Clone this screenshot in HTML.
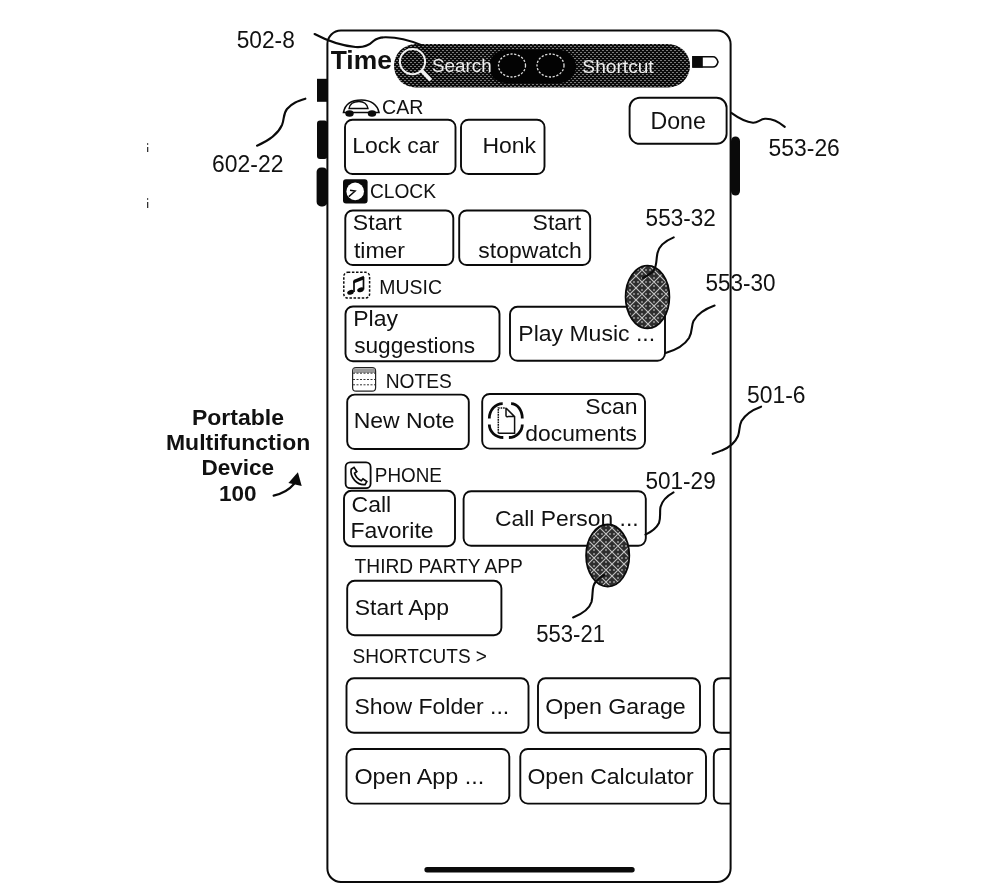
<!DOCTYPE html>
<html><head><meta charset="utf-8">
<style>
html,body{margin:0;padding:0;background:#fff;width:1000px;height:893px;overflow:hidden}
svg{display:block;will-change:transform}
text{font-family:"Liberation Sans",sans-serif;fill:#111}
.ol{fill:none;stroke:#0a0a0a;stroke-width:1.9}
.ld{fill:none;stroke:#0a0a0a;stroke-width:2.1;stroke-linecap:round}
</style></head><body>
<svg width="1000" height="893" viewBox="0 0 1000 893">
<defs>
<pattern id="dith" width="4" height="4" patternUnits="userSpaceOnUse">
<rect width="4" height="4" fill="#0c0c0c"/>
<rect x="0" y="0" width="2" height="1" fill="#7a7a7a"/>
<rect x="2" y="2" width="2" height="1" fill="#7a7a7a"/>
</pattern>
<pattern id="hatch" width="12" height="12" patternUnits="userSpaceOnUse">
<rect width="12" height="12" fill="#2e2e2e"/>
<rect x="5" y="1" width="2" height="2" fill="#808080"/>
<rect x="5" y="9" width="2" height="2" fill="#808080"/>
<rect x="1" y="5" width="2" height="2" fill="#808080"/>
<rect x="9" y="5" width="2" height="2" fill="#808080"/>
<path d="M0,0 L12,12 M12,0 L0,12 M-6,6 L6,-6 M6,18 L18,6 M-6,6 L6,18 M6,-6 L18,6" stroke="#c4c4c4" stroke-width="1.1"/>
</pattern>
</defs>
<!-- ===== device ===== -->
<rect class="ol" x="327.4" y="30.6" width="403.2" height="851.4" rx="13.5" ry="13.5" style="stroke-width:2"/>
<!-- side buttons -->
<rect x="317" y="78.8" width="10.4" height="23" fill="#0a0a0a"/>
<rect x="317" y="120.5" width="10.4" height="38.5" rx="3" fill="#0a0a0a"/>
<rect x="316.6" y="167.4" width="10.8" height="39" rx="4.5" fill="#0a0a0a"/>
<rect x="731" y="136.4" width="9" height="59.2" rx="4.5" fill="#0a0a0a"/>
<!-- tiny marks -->
<rect x="147" y="143" width="1.2" height="2" fill="#555"/>
<rect x="147" y="147" width="1.3" height="5" fill="#333"/>
<rect x="147" y="198" width="1.2" height="2" fill="#555"/>
<rect x="147" y="202" width="1.3" height="6" fill="#333"/>

<!-- ===== status bar ===== -->
<rect x="394" y="44" width="296" height="43.5" rx="21.75" fill="url(#dith)"/>
<rect x="489" y="50" width="87" height="33" rx="16.5" fill="#030303"/>
<ellipse cx="512" cy="65.5" rx="13.5" ry="11.5" fill="none" stroke="#ddd" stroke-width="1.3" stroke-dasharray="2.2 1.6"/>
<ellipse cx="550.5" cy="65.5" rx="13.5" ry="11.5" fill="none" stroke="#ddd" stroke-width="1.3" stroke-dasharray="2.2 1.6"/>
<circle cx="412.5" cy="61.6" r="12.6" fill="none" stroke="#f2f2f2" stroke-width="2"/>
<path d="M421.5,70.5 L430.8,80.2" stroke="#f2f2f2" stroke-width="3.8"/>
<!-- battery -->
<path d="M693,56.8 H713 Q716.5,56.8 718,61.9 Q716.5,67 713,67 H693 Z" fill="#fff" stroke="#0a0a0a" stroke-width="1.6"/>
<rect x="692.3" y="56" width="10.5" height="11.6" fill="#0a0a0a"/>

<!-- ===== leader lines ===== -->
<path class="ld" d="M314.6,34 C325,39.5 340,45.5 355.4,47 C364,47.7 369,45.5 373.5,41 C377.5,37.5 381,37.2 386,37.3 C398,37.5 410,40.5 421,45"/>
<path class="ld" d="M257,145.7 C268,141 278,134 282,125 C284.5,119 283,114 287,109 C292,103 298,101 305.4,98.7"/>
<path class="ld" d="M731.3,112.9 C737,117 745,122 753,122.7 C758,123 760,119 765,118.8 C772,118.5 779,122 784.8,126.9"/>
<path class="ld" d="M714.6,305.6 C705,309 697,315 693.5,321 C691,326 693,331 689,338 C684,346 676,350 665.6,353"/>
<path class="ld" d="M761.1,406.7 C752,410 745,415 741.5,421 C739,426 740,430 738,436 C735,443 728,448 721.8,450.4 C718,452 715,453 712.7,453.8"/>
<path class="ld" d="M673.5,492.4 C667,496 662,501 660.5,507 C659.5,512 661,517 659,523 C656,529 651,532 645.5,534.6"/>
<!-- device 100 arrow -->
<path class="ld" d="M273.6,495.6 C281,494 289,490 294,484"/>
<path d="M297.9,472.2 L288.4,483 L301.7,485.9 Z" fill="#0a0a0a"/>

<!-- ===== content ===== -->
<!-- CAR icon -->
<path d="M343.5,112.5 C345,104 352,100 361.5,100 C371,100 377.5,105 379,112.5 Z" fill="none" stroke="#0a0a0a" stroke-width="1.6"/>
<path d="M349,108.5 C350,103 355,101.5 359,101.5 C364,101.5 367,104 368,108.5 Z" fill="none" stroke="#0a0a0a" stroke-width="1.3"/>
<ellipse cx="349.5" cy="113.5" rx="4.2" ry="3.2" fill="#0a0a0a"/>
<ellipse cx="372" cy="113.5" rx="4.2" ry="3.2" fill="#0a0a0a"/>
<rect class="ol" x="345" y="119.7" width="110.5" height="54.3" rx="7.5"/>
<rect class="ol" x="461" y="119.7" width="83.5" height="54.3" rx="7.5"/>
<rect class="ol" x="629.6" y="97.8" width="97" height="46" rx="10"/>

<!-- CLOCK -->
<rect x="343" y="179.2" width="24.6" height="24.4" rx="3" fill="#0a0a0a"/>
<circle cx="355.2" cy="191.4" r="8.8" fill="#fff"/>
<path d="M350,190.2 L355.2,191 L348.8,196.6" fill="none" stroke="#0a0a0a" stroke-width="1.4"/>
<rect class="ol" x="345.3" y="210.5" width="108" height="54.5" rx="7.5"/>
<rect class="ol" x="459.2" y="210.5" width="131" height="54.5" rx="7.5"/>

<!-- MUSIC -->
<rect x="343.8" y="272.3" width="25.8" height="25.8" rx="4" fill="none" stroke="#0a0a0a" stroke-width="1.5" stroke-dasharray="2.5 1.6"/>
<path d="M353.5,280 L363.8,275.8 L363.8,279.5 L353.5,283.5 Z" fill="#0a0a0a"/>
<path d="M354,281 V292 M363.5,277 V289.5" stroke="#0a0a0a" stroke-width="1.7"/>
<ellipse cx="350.5" cy="292.3" rx="3.4" ry="2.3" fill="#0a0a0a" transform="rotate(-20 350.5 292.3)"/>
<ellipse cx="360.5" cy="289.8" rx="3.4" ry="2.3" fill="#0a0a0a" transform="rotate(-20 360.5 289.8)"/>
<rect class="ol" x="345.5" y="306.5" width="154" height="54.8" rx="7.5"/>
<rect class="ol" x="510" y="306.8" width="155" height="54" rx="7.5"/>

<!-- NOTES -->
<rect x="352.6" y="367.6" width="23" height="23.6" rx="3.5" fill="none" stroke="#222" stroke-width="1.2"/>
<path d="M353.2,368.6 H375 V373 H353.2 Z" fill="#9a9a9a"/>
<path d="M353,373.2 H375 M353,379.5 H375 M353,384.8 H375" stroke="#333" stroke-width="1" stroke-dasharray="2 1.5"/>
<rect class="ol" x="347.2" y="394.6" width="121.6" height="54.4" rx="7.5"/>
<rect class="ol" x="482.2" y="394" width="162.8" height="54.6" rx="7.5"/>
<!-- scan icon -->
<path d="M502.7,403.6 A13.4,14.8 0 0 0 489.3,418.4 M489.3,424.6 A14,12.9 0 0 0 503.3,437.5 M511.1,403.6 A11.2,14.8 0 0 1 522.3,418.4 M522.3,424.6 A13.4,12.9 0 0 1 508.9,437.5" fill="none" stroke="#0a0a0a" stroke-width="2.8"/>
<path d="M498.3,433.2 V408 H506" fill="none" stroke="#111" stroke-width="1.5" stroke-dasharray="1.6 0.9"/>
<path d="M506,408 L514.6,416.6 V433.2 H498.3 M506,408 V415.5 C506,416.4 507,417 508,416.6 H514.6" fill="none" stroke="#111" stroke-width="1.5"/>

<!-- PHONE -->
<rect x="345.6" y="462.4" width="25" height="25.8" rx="4.5" fill="none" stroke="#0a0a0a" stroke-width="1.8"/>
<path d="M351.2,469.2 L354,467.4 L356.8,471.6 L354.6,473.2 C355.6,476.6 358,479.2 361.3,480.8 L363,478.8 L366.8,481.6 L365,484.6 C357.5,485.5 349.6,477.5 351.2,469.2 Z" fill="none" stroke="#0a0a0a" stroke-width="1.7"/>
<rect class="ol" x="344" y="490.8" width="111" height="55.4" rx="7.5"/>
<rect class="ol" x="463.6" y="491.2" width="182.2" height="54.6" rx="7.5"/>

<!-- THIRD PARTY -->
<rect class="ol" x="347.2" y="580.8" width="154.2" height="54.4" rx="7.5"/>

<!-- SHORTCUTS -->
<rect class="ol" x="346.5" y="678.3" width="182" height="54.4" rx="7.5"/>
<rect class="ol" x="538" y="678.3" width="162" height="54.4" rx="7.5"/>
<path class="ol" d="M730,678.3 H721.3 Q713.8,678.3 713.8,685.8 V725.2 Q713.8,732.7 721.3,732.7 H730"/>
<rect class="ol" x="346.5" y="749" width="162.8" height="54.6" rx="7.5"/>
<rect class="ol" x="520.3" y="749" width="185.7" height="54.6" rx="7.5"/>
<path class="ol" d="M730,749 H721.3 Q713.8,749 713.8,756.5 V796.1 Q713.8,803.6 721.3,803.6 H730"/>

<!-- home indicator -->
<rect x="424.4" y="867" width="210.3" height="5.4" rx="2.7" fill="#0a0a0a"/>


<text x="236.71" y="47.9" textLength="58.11" lengthAdjust="spacingAndGlyphs" style="font-size:23px;font-weight:normal;fill:#111">502-8</text>
<text x="212.10" y="171.9" textLength="71.32" lengthAdjust="spacingAndGlyphs" style="font-size:23px;font-weight:normal;fill:#111">602-22</text>
<text x="768.61" y="156.4" textLength="71.22" lengthAdjust="spacingAndGlyphs" style="font-size:23px;font-weight:normal;fill:#111">553-26</text>
<text x="645.62" y="225.5" textLength="70.09" lengthAdjust="spacingAndGlyphs" style="font-size:23px;font-weight:normal;fill:#111">553-32</text>
<text x="705.52" y="290.6" textLength="70.09" lengthAdjust="spacingAndGlyphs" style="font-size:23px;font-weight:normal;fill:#111">553-30</text>
<text x="747.01" y="403.2" textLength="58.52" lengthAdjust="spacingAndGlyphs" style="font-size:23px;font-weight:normal;fill:#111">501-6</text>
<text x="645.42" y="488.7" textLength="70.29" lengthAdjust="spacingAndGlyphs" style="font-size:23px;font-weight:normal;fill:#111">501-29</text>
<text x="536.24" y="641.8" textLength="68.76" lengthAdjust="spacingAndGlyphs" style="font-size:23px;font-weight:normal;fill:#111">553-21</text>
<text x="330.70" y="68.7" textLength="61.14" lengthAdjust="spacingAndGlyphs" style="font-size:26px;font-weight:bold;fill:#111">Time</text>
<text x="431.98" y="72.3" textLength="59.67" lengthAdjust="spacingAndGlyphs" style="font-size:18.5px;font-weight:normal;fill:#eee">Search</text>
<text x="582.36" y="72.6" textLength="71.34" lengthAdjust="spacingAndGlyphs" style="font-size:18.5px;font-weight:normal;fill:#eee">Shortcut</text>
<text x="382.09" y="114.3" textLength="41.38" lengthAdjust="spacingAndGlyphs" style="font-size:19.5px;font-weight:normal;fill:#111">CAR</text>
<text x="369.92" y="197.5" textLength="66.07" lengthAdjust="spacingAndGlyphs" style="font-size:19.5px;font-weight:normal;fill:#111">CLOCK</text>
<text x="379.31" y="294.2" textLength="62.63" lengthAdjust="spacingAndGlyphs" style="font-size:19.5px;font-weight:normal;fill:#111">MUSIC</text>
<text x="385.63" y="387.7" textLength="66.14" lengthAdjust="spacingAndGlyphs" style="font-size:19.5px;font-weight:normal;fill:#111">NOTES</text>
<text x="374.87" y="481.7" textLength="67.08" lengthAdjust="spacingAndGlyphs" style="font-size:19.5px;font-weight:normal;fill:#111">PHONE</text>
<text x="354.60" y="573.0" textLength="168.30" lengthAdjust="spacingAndGlyphs" style="font-size:19.5px;font-weight:normal;fill:#111">THIRD PARTY APP</text>
<text x="352.62" y="663.3" textLength="134.35" lengthAdjust="spacingAndGlyphs" style="font-size:19.5px;font-weight:normal;fill:#111">SHORTCUTS &gt;</text>
<text x="352.21" y="153.4" textLength="86.95" lengthAdjust="spacingAndGlyphs" style="font-size:22px;font-weight:normal;fill:#111">Lock car</text>
<text x="482.51" y="153.4" textLength="53.56" lengthAdjust="spacingAndGlyphs" style="font-size:22px;font-weight:normal;fill:#111">Honk</text>
<text x="650.43" y="128.5" textLength="55.34" lengthAdjust="spacingAndGlyphs" style="font-size:23.5px;font-weight:normal;fill:#111">Done</text>
<text x="352.85" y="230.4" textLength="48.74" lengthAdjust="spacingAndGlyphs" style="font-size:22px;font-weight:normal;fill:#111">Start</text>
<text x="353.90" y="258.2" textLength="51.10" lengthAdjust="spacingAndGlyphs" style="font-size:22px;font-weight:normal;fill:#111">timer</text>
<text x="532.62" y="230.4" textLength="48.57" lengthAdjust="spacingAndGlyphs" style="font-size:22px;font-weight:normal;fill:#111">Start</text>
<text x="478.36" y="258.2" textLength="103.45" lengthAdjust="spacingAndGlyphs" style="font-size:22px;font-weight:normal;fill:#111">stopwatch</text>
<text x="353.21" y="326.4" textLength="44.73" lengthAdjust="spacingAndGlyphs" style="font-size:22px;font-weight:normal;fill:#111">Play</text>
<text x="354.17" y="352.8" textLength="121.07" lengthAdjust="spacingAndGlyphs" style="font-size:22px;font-weight:normal;fill:#111">suggestions</text>
<text x="518.31" y="340.8" textLength="136.79" lengthAdjust="spacingAndGlyphs" style="font-size:22px;font-weight:normal;fill:#111">Play Music ...</text>
<text x="353.71" y="428.3" textLength="100.91" lengthAdjust="spacingAndGlyphs" style="font-size:22px;font-weight:normal;fill:#111">New Note</text>
<text x="585.19" y="414.3" textLength="52.42" lengthAdjust="spacingAndGlyphs" style="font-size:22px;font-weight:normal;fill:#111">Scan</text>
<text x="525.36" y="440.5" textLength="111.69" lengthAdjust="spacingAndGlyphs" style="font-size:22px;font-weight:normal;fill:#111">documents</text>
<text x="351.55" y="511.5" textLength="39.62" lengthAdjust="spacingAndGlyphs" style="font-size:22px;font-weight:normal;fill:#111">Call</text>
<text x="350.51" y="538.1" textLength="83.08" lengthAdjust="spacingAndGlyphs" style="font-size:22px;font-weight:normal;fill:#111">Favorite</text>
<text x="494.96" y="525.8" textLength="143.70" lengthAdjust="spacingAndGlyphs" style="font-size:22px;font-weight:normal;fill:#111">Call Person ...</text>
<text x="354.76" y="615.3" textLength="94.38" lengthAdjust="spacingAndGlyphs" style="font-size:22px;font-weight:normal;fill:#111">Start App</text>
<text x="354.45" y="713.9" textLength="154.79" lengthAdjust="spacingAndGlyphs" style="font-size:22px;font-weight:normal;fill:#111">Show Folder ...</text>
<text x="545.15" y="713.9" textLength="140.54" lengthAdjust="spacingAndGlyphs" style="font-size:22px;font-weight:normal;fill:#111">Open Garage</text>
<text x="354.44" y="783.6" textLength="129.82" lengthAdjust="spacingAndGlyphs" style="font-size:22px;font-weight:normal;fill:#111">Open App ...</text>
<text x="527.45" y="783.6" textLength="166.33" lengthAdjust="spacingAndGlyphs" style="font-size:22px;font-weight:normal;fill:#111">Open Calculator</text>
<text x="191.98" y="424.8" textLength="92.08" lengthAdjust="spacingAndGlyphs" style="font-size:22.5px;font-weight:bold;fill:#111">Portable</text>
<text x="165.98" y="449.6" textLength="144.27" lengthAdjust="spacingAndGlyphs" style="font-size:22.5px;font-weight:bold;fill:#111">Multifunction</text>
<text x="201.40" y="475.2" textLength="72.77" lengthAdjust="spacingAndGlyphs" style="font-size:22.5px;font-weight:bold;fill:#111">Device</text>
<text x="219.00" y="500.8" textLength="37.55" lengthAdjust="spacingAndGlyphs" style="font-size:22.5px;font-weight:bold;fill:#111">100</text>
<!-- touch ellipses -->
<ellipse cx="647.5" cy="297" rx="21.9" ry="31.4" fill="url(#hatch)" stroke="#0a0a0a" stroke-width="1.8"/>
<path class="ld" d="M673.7,237.4 C665,241 659,246 657.5,253 C656,260 657,265 654,270 C651,274 647,276 643,278"/>
<ellipse cx="607.7" cy="555.5" rx="21.6" ry="31" fill="url(#hatch)" stroke="#0a0a0a" stroke-width="1.8"/>
<path class="ld" d="M604,575 C599,578 595,581 593.5,586 C592,591 593,596 591.5,602 C589,610 582,614 573.1,617.4"/>

</svg>
</body></html>
